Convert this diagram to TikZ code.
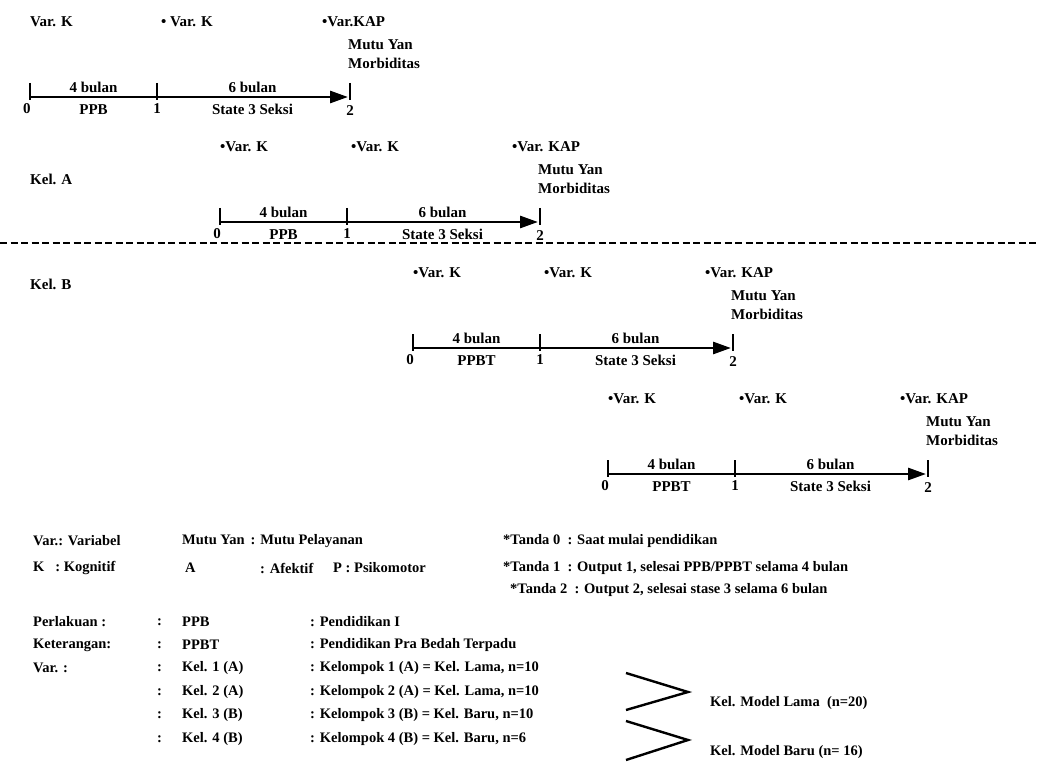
\documentclass[tikz,border=0pt]{standalone}
\usepackage{fontspec}
\setmainfont{Liberation Serif}
\usetikzlibrary{arrows.meta, positioning}

\tikzset{
  txt/.style={font=\bfseries\fontsize{15}{17}\selectfont, inner sep=0pt, anchor=west},
  key/.style={font=\bfseries\fontsize{14.5}{17}\selectfont, inner sep=0pt, anchor=west},
  seg/.style={font=\bfseries\fontsize{15}{17}\selectfont, inner sep=0pt},
  axis/.style={line width=2.8pt, -{Triangle[length=18pt,width=12pt]}},
  tick/.style={line width=1.8pt},
  sep/.style={line width=2.2pt, dash pattern=on 7pt off 3.5pt},
  brace/.style={line width=2.4pt}
}

\begin{document}
\begin{tikzpicture}[x=1pt,y=-1pt]
\useasboundingbox (0,0) rectangle (1038,767);

% the four time lines
\foreach \r/\xs/\yl/\tr/\va/\vb/\vc in {
    1/30/97/PPB/{Var. K}/{\textbullet\ Var. K}/{\textbullet Var.KAP},
    2/220/222/PPB/{\textbullet Var. K}/{\textbullet Var. K}/{\textbullet Var. KAP},
    3/413/348/PPBT/{\textbullet Var. K}/{\textbullet Var. K}/{\textbullet Var. KAP},
    4/608/474/PPBT/{\textbullet Var. K}/{\textbullet Var. K}/{\textbullet Var. KAP}} {
  \coordinate (t\r a) at (\xs,\yl);
  \coordinate (t\r b) at (\xs+127,\yl);
  \coordinate (t\r c) at (\xs+320,\yl);
  \foreach \p in {a,b,c}
    \draw[tick] ([yshift=14pt]t\r\p) -- ([yshift=-3pt]t\r\p);
  \draw[axis] (t\r a) -- node[seg,above=2.5pt] (lo\r) {4 bulan} node[seg,below=6pt] (tr\r) {\tr} (t\r b)
                      -- node[seg,above=2.5pt] (hi\r) {6 bulan} node[seg,below=6pt] (st\r) {State 3 Seksi} ([xshift=-2pt]t\r c);
  \node[seg,below=6pt] (n\r a) at ([xshift=-3pt]t\r a) {0};
  \node[seg,below=6pt] (n\r b) at (t\r b) {1};
  \node[seg,below=8pt] (n\r c) at (t\r c) {2};
  \node[txt] (va\r) at (\xs,\yl-75) {\va};
  \node[txt] (vb\r) at (\xs+131,\yl-75) {\vb};
  \node[txt] (vc\r) at (\xs+292,\yl-75) {\vc};
  \node[txt] (mu\r) at (\xs+318,\yl-52) {Mutu Yan};
  \node[txt] (mo\r) at (\xs+318,\yl-34) {Morbiditas};
}

\node[txt] (kela) at (30,179) {Kel. A};
\node[txt] (kelb) at (30,284) {Kel. B};
\draw[sep] (0,243) -- (1038,243);

% keterangan
\node[key] (var) at (33,541) {Var.: Variabel};
\node[key] (kog) at (33,568) {K \ \ : Kognitif};
\node[key] (mutu) at (182,541) {Mutu Yan \,: Mutu Pelayanan};
\node[key] (afa) at (185,568) {A};
\node[key] (afb) at (260,568) {: Afektif};
\node[key] (psi) at (333,568) {P : Psikomotor};
\node[key] (td0) at (503,541) {*Tanda 0 \ : Saat mulai pendidikan};
\node[key] (td1) at (503,568) {*Tanda 1 \ : Output 1, selesai PPB/PPBT selama 4 bulan};
\node[key] (td2) at (510,590) {*Tanda 2 \ : Output 2, selesai stase 3 selama 6 bulan};

\foreach \k/\y/\ca/\cb/\cc in {
    1/622/{Perlakuan :}/PPB/{: Pendidikan I},
    2/645/{Keterangan:}/PPBT/{: Pendidikan Pra Bedah Terpadu},
    3/668/{Var. :}/{Kel. 1 (A)}/{: Kelompok 1 (A) = Kel. Lama, n=10},
    4/692/{}/{Kel. 2 (A)}/{: Kelompok 2 (A) = Kel. Lama, n=10},
    5/715/{}/{Kel. 3 (B)}/{: Kelompok 3 (B) = Kel. Baru, n=10},
    6/739/{}/{Kel. 4 (B)}/{: Kelompok 4 (B) = Kel. Baru, n=6}} {
  \node[key] (ka\k) at (33,\y) {\ca};
  \node[key] (kc\k) at (157,\y) {:};
  \node[key] (kb\k) at (182,\y) {\cb};
  \node[key] (kd\k) at (310,\y) {\cc};
}

\draw[brace] (626,673) -- (688,692) -- (626,710);
\draw[brace] (626,721) -- (688,740) -- (626,760);
\node[key] (lama) at (710,703) {Kel. Model Lama \ (n=20)};
\node[key] (baru) at (710,752) {Kel. Model Baru (n= 16)};
\end{tikzpicture}
\end{document}
